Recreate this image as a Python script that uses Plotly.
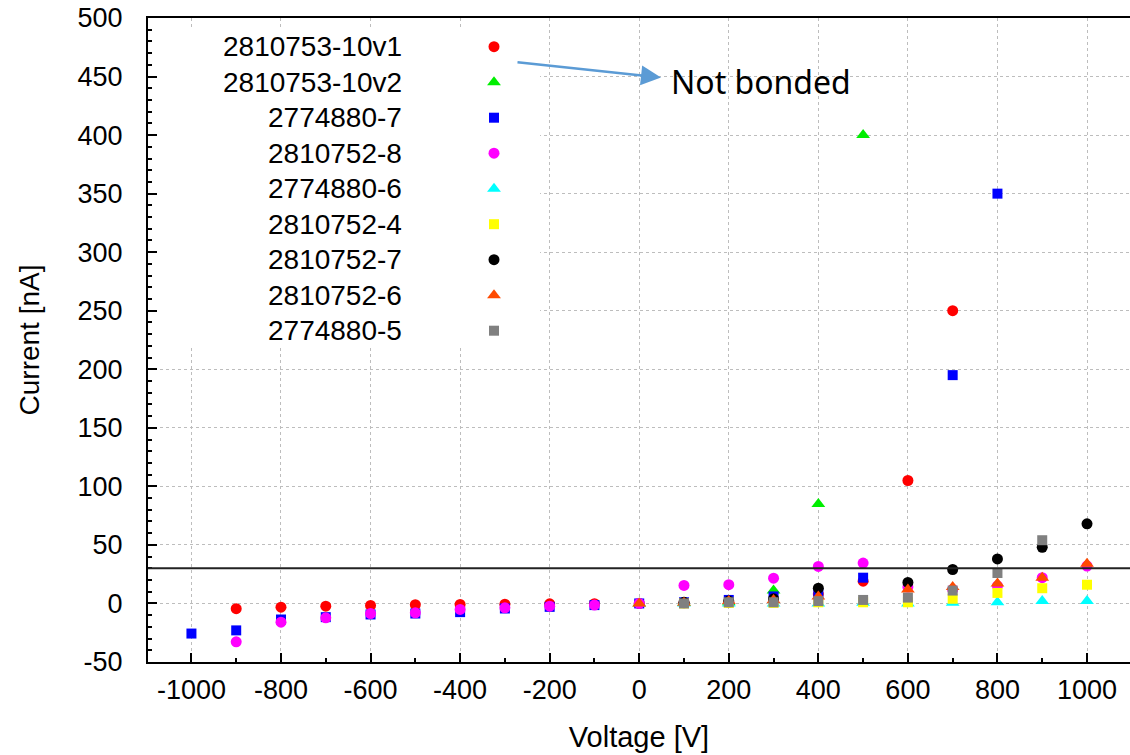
import plotly.graph_objects as go

# ---------------- data ----------------
series_names = ["2810753-10v1", "2810753-10v2", "2774880-7", "2810752-8", "2774880-6",
                "2810752-4", "2810752-7", "2810752-6", "2774880-5"]

v_10v1 = [-900, -800, -700, -600, -500, -400, -300, -200, -100, 0, 100, 200, 300, 400, 500, 600, 700]
i_10v1 = [-4.5, -3.2, -2.3, -1.7, -1.1, -0.9, -0.6, -0.3, -0.2, 0, 0.5, 1, 3, 8, 19, 105, 250]

v_10v2 = [0, 100, 200, 300, 400, 500]
i_10v2 = [0, 0.5, 1, 11, 85, 400]

v_2774880_7 = [-1000, -900, -800, -700, -600, -500, -400, -300, -200, -100, 0, 100, 200, 300, 400, 500, 700, 800]
i_2774880_7 = [-25.7, -23, -13.7, -11.7, -9.4, -8.6, -7.4, -4.3, -2.9, -1.4, 0, 1, 3, 6, 9, 22, 195, 350]

v_2810752_8 = [-900, -800, -700, -600, -500, -400, -300, -200, -100, 0, 100, 200, 300, 400, 500, 600, 700, 800, 900, 1000]
i_2810752_8 = [-32.8, -16, -12.3, -8.6, -8, -5.1, -3.7, -2.3, -1.4, 0, 15.4, 16, 21.6, 31.6, 34.5, 14, 12, 15, 22, 32]

v_2774880_6 = [100, 200, 300, 400, 500, 600, 700, 800, 900, 1000]
i_2774880_6 = [0, 0, 0, 0, 0.5, 0, 0.5, 1, 2, 2]

v_2810752_4 = [100, 200, 300, 400, 500, 600, 700, 800, 900, 1000]
i_2810752_4 = [0, 0.5, 0.5, 1, 1, 1, 4, 9, 13, 16]

v_2810752_7 = [100, 200, 300, 400, 600, 700, 800, 900, 1000]
i_2810752_7 = [1, 2, 4, 13, 18, 29, 38, 48, 68]

v_2810752_6 = [0, 100, 200, 300, 400, 600, 700, 800, 900, 1000]
i_2810752_6 = [0, 0.5, 2, 3, 6, 12, 14, 17, 22, 34]

v_2774880_5 = [100, 200, 300, 400, 500, 600, 700, 800, 900]
i_2774880_5 = [0, 1, 1, 2, 3, 5, 11, 26, 54]

x_tick_vals = [-1000, -800, -600, -400, -200, 0, 200, 400, 600, 800, 1000]
x_tick_text = ["-1000", "-800", "-600", "-400", "-200", "0", "200", "400", "600", "800", "1000"]
y_tick_vals = [-50, 0, 50, 100, 150, 200, 250, 300, 350, 400, 450, 500]
y_tick_text = ["-50", "0", "50", "100", "150", "200", "250", "300", "350", "400", "450", "500"]

threshold_current = 30
annotation_text = "Not bonded"
x_title = "Voltage [V]"
y_title = "Current [nA]"

# ---------------- styles ----------------
xs = [v_10v1, v_10v2, v_2774880_7, v_2810752_8, v_2774880_6, v_2810752_4, v_2810752_7, v_2810752_6, v_2774880_5]
ys = [i_10v1, i_10v2, i_2774880_7, i_2810752_8, i_2774880_6, i_2810752_4, i_2810752_7, i_2810752_6, i_2774880_5]
colors = ["#ff0000", "#00ee00", "#0000ff", "#ff00ff", "#00ffff", "#ffff00", "#000000", "#ff4a00", "#808080"]
symbols = ["circle", "triangle-up", "square", "circle", "triangle-up", "square", "circle", "triangle-up", "square"]
sizes = {"circle": 11, "triangle-up": 12, "square": 10}

# the page body margin is removed (see post_script), so the figure fills the window
W, H = 1130, 755
ML, MR, MT, MB = 148, 0, 18, 93
PW, PH = W - ML - MR, H - MT - MB


def pxx(px):  # page pixel -> paper x
    return (px - ML) / PW


def pxy(py):  # page pixel -> paper y
    return (H - MB - py) / PH


FONT = "Liberation Sans, Arial, sans-serif"

fig = go.Figure()
for name, x, y, c, s in zip(series_names, xs, ys, colors, symbols):
    fig.add_trace(go.Scatter(x=x, y=y, mode="markers", name=name, showlegend=False,
                             marker=dict(symbol=s, color=c, size=sizes[s], line=dict(width=0)),
                             cliponaxis=False))

# white legend box (on overlay axes, covers the grid)
bx0, bx1, by0, by1 = pxx(150), pxx(540), pxy(346), pxy(28)
fig.add_trace(go.Scatter(x=[bx0, bx1, bx1, bx0, bx0], y=[by0, by0, by1, by1, by0], xaxis="x2", yaxis="y2",
                         mode="lines", fill="toself", fillcolor="#ffffff", line=dict(width=0.1, color="#ffffff"),
                         showlegend=False, hoverinfo="skip"))

# custom legend (text right-aligned, key on the right)
leg_top_px, leg_dy_px = 46.7, 35.5
leg_text_right_px, leg_key_px = 404, 494
annotations = []
for k, (name, c, s) in enumerate(zip(series_names, colors, symbols)):
    yy = pxy(leg_top_px + k * leg_dy_px)
    fig.add_trace(go.Scatter(x=[pxx(leg_key_px)], y=[yy], xaxis="x2", yaxis="y2", mode="markers",
                             showlegend=False, hoverinfo="skip",
                             marker=dict(symbol=s, color=c, size=sizes[s], line=dict(width=0))))
    annotations.append(dict(x=pxx(leg_text_right_px), y=yy, xref="paper", yref="paper",
                            text=name, showarrow=False, xanchor="right", yanchor="middle",
                            font=dict(family=FONT, size=28, color="#000")))

# Not bonded text + arrow
annotations.append(dict(x=pxx(669), y=pxy(81), xref="paper", yref="paper", text=annotation_text,
                        showarrow=False, xanchor="left", yanchor="middle",
                        font=dict(family="Noto Sans, Open Sans, sans-serif", size=32, color="#000")))
annotations.append(dict(x=pxx(661), y=pxy(77.5), xref="paper", yref="paper", text="",
                        showarrow=True, arrowhead=2, arrowsize=1.6, arrowwidth=2.5,
                        arrowcolor="#5b9bd5", ax=516 - 661, ay=62 - 77.5, standoff=0))

shapes = [
    dict(type="rect", xref="paper", yref="paper", x0=bx0, x1=bx1, y0=by0, y1=by1,
         fillcolor="white", line=dict(width=0), layer="between"),
    dict(type="line", xref="paper", yref="y", x0=0, x1=1, y0=threshold_current, y1=threshold_current,
         line=dict(color="#222222", width=2), layer="above"),
]

grid = dict(showgrid=True, gridcolor="#bdbdbd", griddash="dot", gridwidth=1, zeroline=False,
            showline=True, linecolor="#000", linewidth=2, ticks="inside", ticklen=9, tickwidth=1.5,
            tickcolor="#000", automargin=False, ticklabeloverflow="allow")

fig.update_layout(
    width=W, height=H, margin=dict(l=ML, r=MR, t=MT, b=MB),
    paper_bgcolor="white", plot_bgcolor="white",
    font=dict(family=FONT, color="#000"),
    xaxis=dict(range=[-1097, 1096], tickvals=x_tick_vals, ticktext=x_tick_text, mirror=True,
               minor=dict(tick0=0, dtick=100, ticks="inside", ticklen=4, tickcolor="#000", showgrid=False),
               tickfont=dict(size=27), ticklabelstandoff=3,
               title=dict(text=x_title, font=dict(size=29), standoff=22), **grid),
    yaxis=dict(range=[-50, 500], tickvals=y_tick_vals, ticktext=y_tick_text,
               minor=dict(tick0=0, dtick=10, ticks="inside", ticklen=4, tickcolor="#000", showgrid=False),
               tickfont=dict(size=27), ticklabelstandoff=18,
               title=dict(text=y_title, font=dict(size=28), standoff=30), **grid),
    xaxis2=dict(overlaying="x", range=[0, 1], visible=False),
    yaxis2=dict(overlaying="y", range=[0, 1], visible=False),
    annotations=annotations, shapes=shapes,
)

fig.write_html("out.html", config={"displayModeBar": False},
               post_script="document.body.style.margin='0';document.body.style.overflow='hidden';")
